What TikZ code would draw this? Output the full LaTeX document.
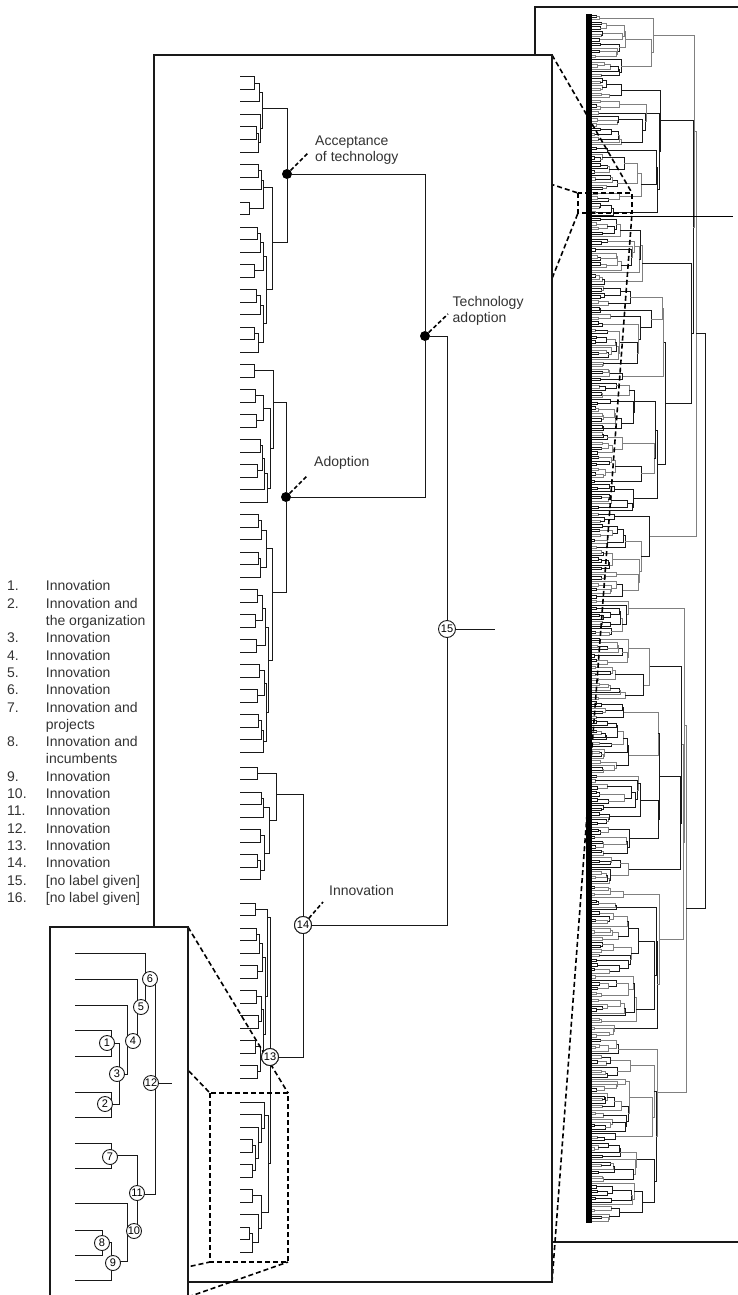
\documentclass[tikz,border=0pt]{standalone}
\usepackage{fontspec}
\setmainfont{Liberation Sans}
\usepackage{tikz}
\usetikzlibrary{calc}
\definecolor{LabelGray}{RGB}{51,51,51}
\definecolor{LineGray}{RGB}{25,25,25}
\tikzset{
  dend/.style={draw=LineGray, line width=1pt},
  treeline/.style={line width=0.7pt},
  frame/.style={draw=LineGray, line width=1.5pt, fill=white},
  zoomline/.style={draw=black, line width=1.6pt, dash pattern=on 5pt off 3pt},
  leader/.style={draw=black, line width=1.6pt, dash pattern=on 4pt off 2.5pt},
  mergedot/.style={circle, fill=black, inner sep=0pt, minimum size=10pt},
  mergenum/.style={circle, draw=LineGray, fill=white, line width=0.9pt, inner sep=0pt, minimum size=17pt, font=\fontsize{11}{11}\selectfont},
  insetnum/.style={mergenum, minimum size=15pt},
  lbl/.style={font=\fontsize{14}{16}\selectfont, text=LabelGray, align=left, inner sep=0pt, anchor=north west},
}
% random overview tree over leaves #1 .. #2-1, root returned in \btX, \btY
\newcommand{\bigtree}[2]{%
  \begingroup
  \edef\btLo{#1}\edef\btHi{#2}%
  \pgfmathtruncatemacro\btN{\btHi-\btLo}%
  \ifnum\btN<2
    \pgfmathsetmacro\bty{15+2.36*\btLo}%
    \xdef\btX{587}\xdef\btY{\bty}%
  \else
    \pgfmathtruncatemacro\btM{\btLo+max(1,min(\btN-1,round(\btN*(0.08+0.84*rnd))))}%
    \edef\btNext{\noexpand\bigtree{\btLo}{\btM}}\btNext
    \let\btXa\btX \let\btYa\btY
    \edef\btNext{\noexpand\bigtree{\btM}{\btHi}}\btNext
    \let\btXb\btX \let\btYb\btY
    \pgfmathsetmacro\btXp{min(698,max(max(\btXa,\btXb)+1.5,587+17*ln(\btN)*(0.6+0.7*rnd)))}%
    \ifnum\btN>400 \def\btXp{705}\fi
    \pgfmathtruncatemacro\btG{rnd<0.55 ? 90 : 50}%
    \draw[treeline, draw=black!\btG] (\btXa,\btYa) -| (\btXp,\btYb) -- (\btXb,\btYb);
    \pgfmathsetmacro\btYm{(\btYa+\btYb)/2}%
    \xdef\btX{\btXp}\xdef\btY{\btYm}%
  \fi
  \endgroup}

\begin{document}
\begin{tikzpicture}[x=1pt, y=-1pt]
  \useasboundingbox (0,0) rectangle (738,1295);
  \clip (0,0) rectangle (738,1295);

  \coordinate (ovNW) at (535,7);
  \coordinate (ovSE) at (745,1242);
  \coordinate (ovzNW) at (578,193);
  \coordinate (ovzNE) at (632,193);
  \coordinate (ovzSW) at (578,213);
  \coordinate (ovzSE) at (632,213);
  \coordinate (ovStubA) at (590,216);
  \coordinate (ovStubB) at (733,216);
  \coordinate (mainNW) at (154,55);
  \coordinate (mainNE) at (552,55);
  \coordinate (mainSW) at (154,1282);
  \coordinate (mainSE) at (552,1282);
  \coordinate (zoomNW) at (210,1093);
  \coordinate (zoomNE) at (288,1093);
  \coordinate (zoomSW) at (210,1262);
  \coordinate (zoomSE) at (288,1262);
  \coordinate (insNW) at (50,927);
  \coordinate (insNE) at (188,927);
  \coordinate (insSW) at (50,1297);
  \coordinate (insSE) at (188,1297);

  % overview panel
  \draw[draw=LineGray, line width=1.3pt] (ovNW) rectangle (ovSE);
  \pgfmathsetseed{5}
  \bigtree{0}{512}
  \fill[black] (586,14) rectangle (592,1223);
  \draw[line width=0.8pt] (ovStubA) -- (ovStubB);
  \draw[zoomline] (ovzNW) rectangle (ovzSE);

  \draw[zoomline] (mainNE) -- (ovzNE);
  \draw[zoomline] (mainSE) -- (ovzSE);
  \draw[zoomline] (mainNW) -- (ovzNW);
  \draw[zoomline] (mainSW) -- (ovzSW);

  % main panel
  \draw[frame] (mainNW) rectangle (mainSE);

  \node[mergedot] (acc) at (287,174) {};
  \node[mergedot] (adop) at (286,497) {};
  \node[mergedot] (tad) at (425,336) {};
  \coordinate (n15stub) at (495,629);

  \draw[dend] (240,77) -| (254,89.5) -- (240,89.5);
  \draw[dend] (254,83.25) -| (259,102) -- (240,102);
  \draw[dend] (240,127) -| (256,139.5) -- (240,139.5);
  \draw[dend] (256,133.25) -| (258,152) -- (240,152);
  \draw[dend] (240,114.5) -| (260,142.6) -- (258,142.6);
  \draw[dend] (259,92.6) -| (262,128.5) -- (260,128.5);

  \draw[dend] (240,164.5) -| (258,177) -- (240,177);
  \draw[dend] (258,170.75) -| (261,189.5) -- (240,189.5);
  \draw[dend] (240,202) -| (249,214.5) -- (240,214.5);
  \draw[dend] (261,180) -| (263,208.25) -- (249,208.25);
  \draw[dend] (240,227) -| (257,239.5) -- (240,239.5);
  \draw[dend] (257,233.25) -| (260,252) -- (240,252);
  \draw[dend] (240,264.5) -| (254,277) -- (240,277);
  \draw[dend] (260,242.6) -| (263,270.75) -- (254,270.75);
  \draw[dend] (240,289.5) -| (256,302) -- (240,302);
  \draw[dend] (256,295.75) -| (260,314.5) -- (240,314.5);
  \draw[dend] (240,327) -| (254,339.5) -- (240,339.5);
  \draw[dend] (254,333.25) -| (258,352) -- (240,352);
  \draw[dend] (260,305) -| (263,342.6) -- (258,342.6);
  \draw[dend] (263,256.7) -| (266,323.8) -- (263,323.8);
  \draw[dend] (263,187) -| (272,289) -- (266,289);

  \draw[dend] (240,364.5) -| (254,377) -- (240,377);
  \draw[dend] (240,389.5) -| (255,402) -- (240,402);
  \draw[dend] (240,414.5) -| (256,427) -- (240,427);
  \draw[dend] (255,395.75) -| (263,420.75) -- (256,420.75);
  \draw[dend] (240,439.5) -| (260,452) -- (240,452);
  \draw[dend] (240,464.5) -| (257,477) -- (240,477);
  \draw[dend] (260,445.75) -| (262,470.75) -- (257,470.75);
  \draw[dend] (262,458.25) -| (264,489.5) -- (240,489.5);
  \draw[dend] (264,473.9) -| (267,502) -- (240,502);
  \draw[dend] (263,408.25) -| (270,488) -- (267,488);
  \draw[dend] (254,370.75) -| (273,448) -- (270,448);

  \draw[dend] (240,514.5) -| (258,527) -- (240,527);
  \draw[dend] (258,520.75) -| (261,539.5) -- (240,539.5);
  \draw[dend] (240,552) -| (258,564.5) -- (240,564.5);
  \draw[dend] (258,558.25) -| (260,577) -- (240,577);
  \draw[dend] (261,530) -| (266,567.6) -- (260,567.6);
  \draw[dend] (240,589.5) -| (257,602) -- (240,602);
  \draw[dend] (240,614.5) -| (255,627) -- (240,627);
  \draw[dend] (257,595.75) -| (262,620.75) -- (255,620.75);
  \draw[dend] (240,639.5) -| (256,652) -- (240,652);
  \draw[dend] (262,608.25) -| (265,645.75) -- (256,645.75);
  \draw[dend] (240,664.5) -| (259,677) -- (240,677);
  \draw[dend] (240,689.5) -| (257,702) -- (240,702);
  \draw[dend] (259,670.75) -| (264,695.75) -- (257,695.75);
  \draw[dend] (240,714.5) -| (258,727) -- (240,727);
  \draw[dend] (258,720.75) -| (261,739.5) -- (240,739.5);
  \draw[dend] (261,730.1) -| (263,752) -- (240,752);
  \draw[dend] (264,683.25) -| (266,741) -- (263,741);
  \draw[dend] (265,627) -| (268,712) -- (266,712);
  \draw[dend] (266,548.8) -| (272,660) -- (268,660);

  \draw[dend] (240,767) -| (257,779.5) -- (240,779.5);
  \draw[dend] (240,792) -| (261,804.5) -- (240,804.5);
  \draw[dend] (261,798.25) -| (263,817) -- (240,817);
  \draw[dend] (240,829.5) -| (260,842) -- (240,842);
  \draw[dend] (240,854.5) -| (257,867) -- (240,867);
  \draw[dend] (257,860.75) -| (260,879.5) -- (240,879.5);
  \draw[dend] (260,835.75) -| (264,870) -- (260,870);
  \draw[dend] (263,807.6) -| (269,853) -- (264,853);
  \draw[dend] (257,773.25) -| (276,820) -- (269,820);

  \draw[dend] (240,903) -| (255,915.5) -- (240,915.5);
  \draw[dend] (240,928) -| (256,940.5) -- (240,940.5);
  \draw[dend] (256,934.25) -| (259,953) -- (240,953);
  \draw[dend] (240,965.5) -| (257,978) -- (240,978);
  \draw[dend] (259,943.6) -| (262,971.75) -- (257,971.75);
  \draw[dend] (240,990.5) -| (256,1003) -- (240,1003);
  \draw[dend] (240,1015.5) -| (258,1028) -- (240,1028);
  \draw[dend] (256,996.75) -| (261,1021.75) -- (258,1021.75);
  \draw[dend] (240,1040.5) -| (255,1053) -- (240,1053);
  \draw[dend] (240,1065.5) -| (257,1078) -- (240,1078);
  \draw[dend] (255,1046.75) -| (260,1071.75) -- (257,1071.75);
  \draw[dend] (261,1009.25) -| (263,1059.25) -- (260,1059.25);
  \draw[dend] (262,957.7) -| (265,1034.25) -- (263,1034.25);
  \draw[dend] (255,909.25) -| (267,996) -- (265,996);

  \draw[dend] (240,1139.5) -| (252.5,1152) -- (240,1152);
  \draw[dend] (240,1164.5) -| (252.5,1177) -- (240,1177);
  \draw[dend] (252.5,1145.75) -| (255.4,1170.75) -- (252.5,1170.75);
  \draw[dend] (240,1127) -| (258.3,1158.25) -- (255.4,1158.25);
  \draw[dend] (240,1114.5) -| (261.6,1142.6) -- (258.3,1142.6);
  \draw[dend] (240,1102) -| (264.5,1128.6) -- (261.6,1128.6);
  \draw[dend] (240,1189.5) -| (252.5,1202) -- (240,1202);
  \draw[dend] (240,1227) -| (249.3,1239.5) -- (240,1239.5);
  \draw[dend] (249.3,1233.25) -| (252.5,1252) -- (240,1252);
  \draw[dend] (240,1214.5) -| (258.3,1242.6) -- (252.5,1242.6);
  \draw[dend] (252.5,1195.75) -| (261.6,1228.6) -- (258.3,1228.6);
  \draw[dend] (264.5,1115.3) -| (268,1212.2) -- (261.6,1212.2);

  \node[mergenum] (n13) at (270,1057) {13};
  \node[mergenum] (n14) at (303,925) {14};
  \node[mergenum] (n15) at (447,629) {15};

  \draw[dend] (262,109) -| (acc);
  \draw[dend] (272,242) -| (acc);
  \draw[dend] (273,402) -| (adop);
  \draw[dend] (272,592) -| (adop);
  \draw[dend] (acc) -| (tad);
  \draw[dend] (adop) -| (tad);
  \draw[dend] (267,917) -| (n13);
  \draw[dend] (268,1163.7) -| (n13);
  \draw[dend] (276,794) -| (n14);
  \draw[dend] (n13) -| (n14);
  \draw[dend] (tad) -| (n15);
  \draw[dend] (n14) -| (n15);
  \draw[dend] (n15) -- (n15stub);

  \draw[zoomline] (zoomNW) rectangle (zoomSE);
  \draw[zoomline] (insNE) -- (zoomNE);
  \draw[zoomline] (insSE) -- (zoomSE);
  \draw[zoomline] (insNW) -- (zoomNW);
  \draw[zoomline] (insSW) -- (zoomSW);

  \node[mergenum] at (n13) {13};
  \node[mergenum] at (n14) {14};

  \node[lbl] (accLbl) at (315,135.5) {Acceptance\\of technology};
  \node[lbl] (tadLbl) at (452.5,296.6) {Technology\\adoption};
  \node[lbl] (adopLbl) at (314,456.6) {Adoption};
  \node[lbl] (innLbl) at (329,885) {Innovation};
  \coordinate (accTip) at (309,152);
  \coordinate (tadTip) at (448,314);
  \coordinate (adopTip) at (308,475);
  \coordinate (innTip) at (323,902);
  \draw[leader] (acc) -- (accTip);
  \draw[leader] (tad) -- (tadTip);
  \draw[leader] (adop) -- (adopTip);
  \draw[leader] (n14) -- (innTip);

  % inset panel
  \draw[frame, line width=1.3pt] (insNW) rectangle (insSE);

  \draw[dend] (75,1030) -| (111,1056) -- (75,1056);
  \draw[dend] (75,1092) -| (111,1117) -- (75,1117);
  \draw[dend] (111,1043) -| (119,1104.5) -- (111,1104.5);
  \draw[dend] (75,1005) -| (127,1074) -- (119,1074);
  \draw[dend] (75,979) -| (137,1039.5) -- (127,1039.5);
  \draw[dend] (75,953) -| (145,1009) -- (137,1009);
  \draw[dend] (75,1143) -| (111,1168) -- (75,1168);
  \draw[dend] (75,1230) -| (102,1255) -- (75,1255);
  \draw[dend] (102,1242.5) -| (111,1280) -- (75,1280);
  \draw[dend] (75,1203) -| (127,1261) -- (111,1261);
  \draw[dend] (111,1155.5) -| (137,1232) -- (127,1232);
  \draw[dend] (145,981) -| (155,1194) -- (137,1194);

  \node[insetnum] (i1) at (107,1043) {1};
  \node[insetnum] (i2) at (105,1104) {2};
  \node[insetnum] (i3) at (117,1074) {3};
  \node[insetnum] (i4) at (133,1041) {4};
  \node[insetnum] (i5) at (141,1007) {5};
  \node[insetnum] (i6) at (150,979) {6};
  \node[insetnum] (i7) at (110,1157) {7};
  \node[insetnum] (i8) at (102,1243) {8};
  \node[insetnum] (i9) at (113,1263) {9};
  \node[insetnum] (i10) at (134,1231) {10};
  \node[insetnum] (i11) at (137,1193) {11};
  \node[insetnum] (i12) at (151,1083) {12};
  \coordinate (i12stub) at (172,1083);
  \draw[dend] (i12) -- (i12stub);

  % legend
  \node[anchor=north west, inner sep=0pt, text=LabelGray, font=\fontsize{14}{17.3}\selectfont] (legend) at (7,578.6) {%
    \begin{tabular}{@{}p{38.7pt}@{}l@{}}
      1. & Innovation\\
      2. & Innovation and\\
         & the organization\\
      3. & Innovation\\
      4. & Innovation\\
      5. & Innovation\\
      6. & Innovation\\
      7. & Innovation and\\
         & projects\\
      8. & Innovation and\\
         & incumbents\\
      9. & Innovation\\
      10. & Innovation\\
      11. & Innovation\\
      12. & Innovation\\
      13. & Innovation\\
      14. & Innovation\\
      15. & [no label given]\\
      16. & [no label given]
    \end{tabular}};
\end{tikzpicture}
\end{document}
